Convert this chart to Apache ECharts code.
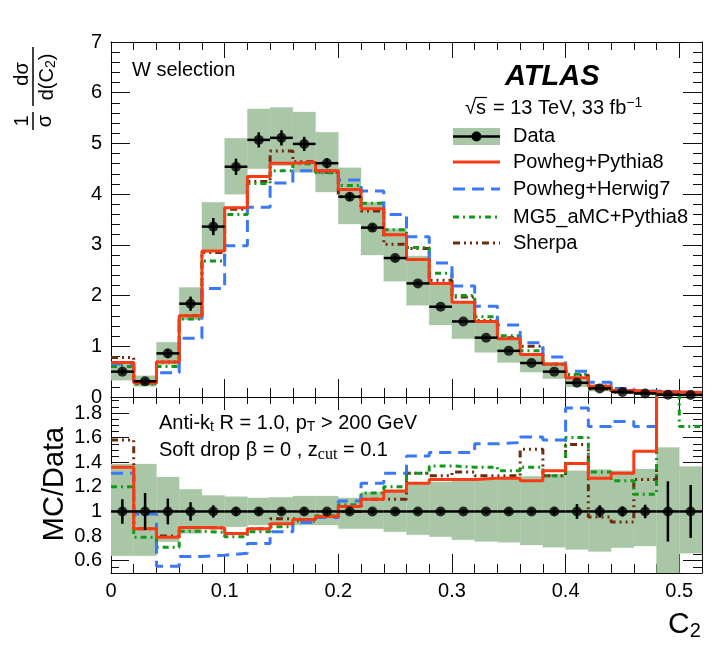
<!DOCTYPE html>
<html><head><meta charset="utf-8">
<script src="https://cdn.jsdelivr.net/npm/echarts@6/dist/echarts.min.js"></script>
<style>html,body{margin:0;padding:0;background:#fff}#c{width:724px;height:647px}</style>
</head><body><div id="c"></div>
<script>
// ---------- data ----------
const binEdges = [0,0.02,0.04,0.06,0.08,0.10,0.12,0.14,0.16,0.18,0.20,0.22,0.24,0.26,0.28,0.30,0.32,0.34,0.36,0.38,0.40,0.42,0.44,0.46,0.48,0.50,0.52];
const dataVal = [0.50,0.31,0.86,1.84,3.36,4.54,5.07,5.11,4.99,4.61,3.95,3.34,2.74,2.24,1.78,1.49,1.17,0.91,0.67,0.50,0.28,0.17,0.10,0.07,0.045,0.04];
const dataErr = [0.05,0.05,0.09,0.14,0.17,0.16,0.15,0.15,0.14,0.10,0.08,0.07,0.05,0.04,0.035,0.03,0.025,0.02,0.015,0.015,0.017,0.009,0.004,0.004,0.011,0.009];
const bandTopLo = [0.33,0.21,0.64,1.52,2.90,4.00,4.50,4.56,4.43,4.04,3.41,2.80,2.28,1.81,1.42,1.15,0.88,0.68,0.49,0.36,0.20,0.115,0.07,0.05,0.018,0.026];
const bandTopHi = [0.69,0.42,1.08,2.16,3.84,5.10,5.68,5.71,5.62,5.22,4.52,3.84,3.32,2.78,2.21,1.86,1.47,1.16,0.86,0.65,0.37,0.23,0.133,0.094,0.068,0.055];
const powhegPythia = [0.68,0.28,0.69,1.60,2.88,3.73,4.35,4.61,4.63,4.46,4.09,3.71,3.20,2.71,2.24,1.87,1.49,1.15,0.84,0.65,0.38,0.21,0.13,0.105,0.10,0.09];
const powhegHerwig = [0.65,0.30,0.48,1.16,2.14,2.98,3.74,4.22,4.46,4.46,4.28,4.06,3.60,3.16,2.64,2.19,1.79,1.42,1.07,0.79,0.51,0.29,0.17,0.12,0.10,0.09];
const mg5Pythia = [0.60,0.25,0.60,1.54,2.68,3.60,4.21,4.46,4.60,4.42,4.17,3.82,3.30,2.95,2.44,2.00,1.58,1.21,0.91,0.65,0.45,0.22,0.125,0.08,0.10,0.067];
const sherpa = [0.78,0.27,0.69,1.60,2.85,3.70,4.25,4.85,4.64,4.43,3.95,3.67,3.01,2.93,2.30,1.97,1.51,1.17,1.00,0.645,0.43,0.16,0.09,0.09,0.10,0.08];
// ratio panel
const ratioData = [1,1,1,1,1,1,1,1,1,1,1,1,1,1,1,1,1,1,1,1,1,1,1,1,1,1];
const ratioErr = [0.10,0.15,0.105,0.075,0.05,0.035,0.03,0.03,0.03,0.02,0.02,0.02,0.02,0.02,0.02,0.02,0.02,0.02,0.02,0.03,0.06,0.05,0.04,0.055,0.245,0.215];
const ratioBandLo = [0.64,0.64,0.754,0.82,0.86,0.875,0.89,0.89,0.89,0.89,0.86,0.86,0.835,0.81,0.795,0.77,0.755,0.75,0.728,0.71,0.69,0.674,0.706,0.72,0.40,0.66];
const ratioBandHi = [1.385,1.385,1.28,1.18,1.13,1.12,1.11,1.115,1.125,1.125,1.11,1.157,1.18,1.23,1.24,1.25,1.26,1.278,1.286,1.30,1.33,1.34,1.33,1.345,1.52,1.366];
const rPowhegPythia = [1.36,0.86,0.79,0.87,0.865,0.82,0.86,0.90,0.935,0.96,1.04,1.10,1.165,1.23,1.26,1.26,1.27,1.27,1.25,1.33,1.39,1.27,1.31,1.49,2.4,2.4];
const rPowhegHerwig = [1.31,0.98,0.555,0.635,0.645,0.66,0.74,0.835,0.91,0.95,1.085,1.23,1.31,1.45,1.48,1.48,1.55,1.56,1.605,1.58,1.84,1.69,1.73,1.69,2.4,2.4];
const rMg5Pythia = [1.20,0.79,0.71,0.84,0.83,0.795,0.835,0.875,0.92,0.965,1.055,1.15,1.20,1.31,1.37,1.36,1.36,1.33,1.36,1.29,1.60,1.32,1.25,1.14,2.4,1.69];
const rSherpa = [1.58,0.86,0.80,0.87,0.865,0.82,0.86,0.94,0.93,0.96,1.00,1.10,1.10,1.31,1.29,1.32,1.29,1.29,1.505,1.29,1.545,0.955,0.915,1.26,2.4,2.4];
const legendNames = ['Data','Powheg+Pythia8','Powheg+Herwig7','MG5_aMC+Pythia8','Sherpa'];

// ---------- style ----------
const FONT = 'Liberation Sans, Arial, Helvetica, sans-serif';
const BAND = '#a9c7a6';
const RED = '#fa3a14', BLUE = '#3a78f5', GREEN = '#12991a', BROWN = '#6b2c0c';
const DASH_BLUE = [12, 7], DASH_GREEN = [6, 4, 2, 4], DASH_BROWN = [7, 4, 2, 4, 2, 4, 2, 4];

const chart = echarts.init(document.getElementById('c'), null, {renderer: 'canvas'});

function stepData(vals) {
  const d = vals.map((v, i) => [binEdges[i], v]);
  d.push([binEdges[vals.length], vals[vals.length - 1]]);
  return d;
}
function bandSeries(lo, hi, ax) {
  return {
    type: 'custom', xAxisIndex: ax, yAxisIndex: ax, silent: true, z: 1, clip: true,
    data: lo.map((l, i) => [binEdges[i], binEdges[i + 1], l, hi[i]]),
    encode: {x: [0, 1], y: [2, 3]},
    renderItem: (params, api) => {
      const p1 = api.coord([api.value(0), api.value(3)]);
      const p2 = api.coord([api.value(1), api.value(2)]);
      const cs = params.coordSys;
      const r = echarts.graphic.clipRectByRect(
        {x: p1[0], y: p1[1], width: p2[0] - p1[0], height: p2[1] - p1[1]},
        {x: cs.x, y: cs.y, width: cs.width, height: cs.height});
      return r && {type: 'rect', shape: r, style: {fill: BAND, stroke: BAND, lineWidth: 0.3}};
    }
  };
}
function errSeries(vals, errs, ax) {
  return {
    type: 'custom', xAxisIndex: ax, yAxisIndex: ax, silent: true, z: 5,
    data: vals.map((v, i) => [binEdges[i], binEdges[i + 1], v, errs[i]]),
    encode: {x: [0, 1], y: 2},
    renderItem: (params, api) => {
      const y = api.value(2), e = api.value(3);
      const a = api.coord([api.value(0), y]);
      const b = api.coord([api.value(1), y]);
      const xm = (a[0] + b[0]) / 2;
      const t = api.coord([0, y + e]), u = api.coord([0, y - e]);
      return {type: 'group', children: [
        {type: 'line', shape: {x1: a[0], y1: a[1], x2: b[0], y2: b[1]}, style: {stroke: '#000', lineWidth: 2.5}},
        {type: 'line', shape: {x1: xm, y1: t[1], x2: xm, y2: u[1]}, style: {stroke: '#000', lineWidth: 2.5}}
      ]};
    }
  };
}
function dotSeries(vals, ax) {
  return {
    type: 'scatter', xAxisIndex: ax, yAxisIndex: ax, silent: true, z: 6,
    symbol: 'circle', symbolSize: 10, itemStyle: {color: '#000'},
    data: vals.map((v, i) => [(binEdges[i] + binEdges[i + 1]) / 2, v])
  };
}
function mcSeries(name, vals, color, dash, ax) {
  return {
    name, type: 'line', xAxisIndex: ax, yAxisIndex: ax, step: 'end', showSymbol: false, symbol: 'none',
    silent: true, z: 3, clip: true,
    lineStyle: {color, width: 3, type: dash},
    data: stepData(vals)
  };
}

const tickCol = '#111';
function xAx(grid, pos, showLabel, major, minor) {
  return {
    type: 'value', gridIndex: grid, position: pos, min: 0, max: 0.52, interval: 0.1,
    axisLine: {show: true, onZero: false, lineStyle: {color: '#000', width: 1}},
    axisTick: {show: true, inside: true, length: major, lineStyle: {color: tickCol, width: 1}},
    minorTick: {show: true, splitNumber: 5, length: minor, lineStyle: {color: tickCol, width: 1}},
    splitLine: {show: false},
    axisLabel: {show: showLabel, margin: 8, fontSize: 20, fontFamily: FONT, color: '#000',
      formatter: v => (Math.abs(v * 10 - Math.round(v * 10)) < 1e-6 ? String(+v.toFixed(1)) : '')}
  };
}
function yAx(grid, pos, showLabel, opts, major, minor, minorSplit) {
  return Object.assign({
    type: 'value', gridIndex: grid, position: pos,
    axisLine: {show: true, onZero: false, lineStyle: {color: '#000', width: 1}},
    axisTick: {show: true, inside: true, length: major, lineStyle: {color: tickCol, width: 1}},
    minorTick: {show: true, splitNumber: minorSplit, length: minor, lineStyle: {color: tickCol, width: 1}},
    splitLine: {show: false},
    axisLabel: {show: showLabel, margin: 9, fontSize: 20, fontFamily: FONT, color: '#000'}
  }, opts);
}
const ratioFmt = v => (Math.abs(v * 5 - Math.round(v * 5)) < 1e-6 ? String(+v.toFixed(1)) : '');

const sub = {fontSize: 14, fontFamily: FONT, fill: '#000', padding: [9, 0, 0, 0], verticalAlign: 'bottom'};
const txt = {fontSize: 20, fontFamily: FONT, fill: '#000'};

const legendY = [136.5, 162, 189, 217, 243];
const legendX1 = 453, legendX2 = 500, legendTX = 513;

function rotText(cx, cy, style) {
  return {type: 'text', x: cx, y: cy, rotation: Math.PI / 2,
    style: Object.assign({x: 0, y: 0, align: 'center', verticalAlign: 'middle'}, style)};
}

const graphics = [
  {type: 'text', style: {text: 'W selection', x: 132, y: 70, font: '20px ' + FONT, fill: '#000', verticalAlign: 'middle'}},
  {type: 'text', style: {text: 'ATLAS', x: 505, y: 77, font: 'italic bold 29px ' + FONT, fill: '#000', verticalAlign: 'middle'}},
  {type: 'text', style: {text: '\u221As', x: 465, y: 108, font: '20px ' + FONT, fill: '#000', verticalAlign: 'middle'}},
  {type: 'line', shape: {x1: 475, y1: 97.5, x2: 487, y2: 97.5}, style: {stroke: '#000', lineWidth: 1.2}},
  {type: 'text', style: {text: '{a|= 13 TeV, 33 fb}{s|\u22121}', x: 493, y: 108, verticalAlign: 'middle',
    rich: {a: {fontSize: 20, fontFamily: FONT, fill: '#000'}, s: {fontSize: 14, fontFamily: FONT, fill: '#000', verticalAlign: 'top', padding: [0, 0, 10, 0]}}}},
  // legend
  {type: 'rect', shape: {x: legendX1, y: 128, width: legendX2 - legendX1, height: 17}, style: {fill: BAND}},
  {type: 'line', shape: {x1: legendX1, y1: legendY[0], x2: legendX2, y2: legendY[0]}, style: {stroke: '#000', lineWidth: 2.5}},
  {type: 'circle', shape: {cx: (legendX1 + legendX2) / 2, cy: legendY[0], r: 5}, style: {fill: '#000'}},
  {type: 'line', shape: {x1: legendX1, y1: legendY[1], x2: legendX2, y2: legendY[1]}, style: {stroke: RED, lineWidth: 3}},
  {type: 'line', shape: {x1: legendX1, y1: legendY[2], x2: legendX2, y2: legendY[2]}, style: {stroke: BLUE, lineWidth: 3, lineDash: DASH_BLUE}},
  {type: 'line', shape: {x1: legendX1, y1: legendY[3], x2: legendX2, y2: legendY[3]}, style: {stroke: GREEN, lineWidth: 3, lineDash: DASH_GREEN}},
  {type: 'line', shape: {x1: legendX1, y1: legendY[4], x2: legendX2, y2: legendY[4]}, style: {stroke: BROWN, lineWidth: 3, lineDash: DASH_BROWN}},
  ...legendNames.map((n, i) => ({type: 'text', style: {text: n, x: legendTX, y: legendY[i], font: '20px ' + FONT, fill: '#000', verticalAlign: 'middle'}})),
  // ratio panel labels
  {type: 'text', style: {text: '{a|Anti-k}{s|t}{a| R = 1.0, p}{s|T}{a| > 200 GeV}', x: 159, y: 423, verticalAlign: 'middle',
    rich: {a: txt, s: sub}}},
  {type: 'text', style: {text: '{a|Soft drop \u03B2 = 0 , z}{c|cut}{a| = 0.1}', x: 159, y: 450, verticalAlign: 'middle',
    rich: {a: txt, c: {fontSize: 16, fontFamily: 'Liberation Serif, serif', fill: '#000', padding: [9, 0, 0, 0], verticalAlign: 'bottom'}}}},
  // axis titles
  rotText(55, 484, {text: 'MC/Data', font: '29px ' + FONT, fill: '#000'}),
  {type: 'text', style: {text: '{a|C}{s|2}', x: 668, y: 625, verticalAlign: 'middle',
    rich: {a: {fontSize: 30, fontFamily: FONT, fill: '#000'}, s: {fontSize: 20, fontFamily: FONT, fill: '#000', padding: [12, 0, 0, 0], verticalAlign: 'bottom'}}}},
  // y title: (1/sigma) (d sigma / d(C2)), rotated
  rotText(22, 121, {text: '1', font: '20px ' + FONT, fill: '#000'}),
  rotText(45, 121, {text: '\u03C3', font: '20px ' + FONT, fill: '#000'}),
  {type: 'line', shape: {x1: 33, y1: 112, x2: 33, y2: 130}, style: {stroke: '#000', lineWidth: 1.5}},
  rotText(22, 74, {text: 'd\u03C3', font: '20px ' + FONT, fill: '#000'}),
  rotText(47, 77, {text: '{a|d(C}{s|2}{a|)}', rich: {a: txt, s: sub}}),
  {type: 'line', shape: {x1: 33, y1: 47, x2: 33, y2: 106}, style: {stroke: '#000', lineWidth: 1.5}}
];

const option = {
  animation: false,
  backgroundColor: '#fff',
  grid: [
    {left: 111, top: 42, width: 591, height: 355, containLabel: false},
    {left: 111, top: 397, width: 591, height: 176, containLabel: false}
  ],
  xAxis: [
    xAx(0, 'bottom', false, 18, 9),
    xAx(0, 'top', false, 16, 8),
    xAx(1, 'bottom', true, 19, 9),
    xAx(1, 'top', false, 13, 7)
  ],
  yAxis: [
    yAx(0, 'left', true, {min: 0, max: 7, interval: 1}, 19, 9, 5),
    yAx(0, 'right', false, {min: 0, max: 7, interval: 1}, 19, 9, 5),
    yAx(1, 'left', true, {min: 0.5, max: 1.93, splitNumber: 7}, 18, 8, 4),
    yAx(1, 'right', false, {min: 0.5, max: 1.93, splitNumber: 7}, 19, 9, 4)
  ],
  graphic: graphics,
  series: [
    bandSeries(bandTopLo, bandTopHi, 0),
    mcSeries('Sherpa', sherpa, BROWN, DASH_BROWN, 0),
    mcSeries('MG5_aMC+Pythia8', mg5Pythia, GREEN, DASH_GREEN, 0),
    mcSeries('Powheg+Herwig7', powhegHerwig, BLUE, DASH_BLUE, 0),
    mcSeries('Powheg+Pythia8', powhegPythia, RED, 'solid', 0),
    errSeries(dataVal, dataErr, 0),
    dotSeries(dataVal, 0),
    bandSeries(ratioBandLo, ratioBandHi, 2),
    mcSeries('Sherpa r', rSherpa, BROWN, DASH_BROWN, 2),
    mcSeries('MG5 r', rMg5Pythia, GREEN, DASH_GREEN, 2),
    mcSeries('Herwig r', rPowhegHerwig, BLUE, DASH_BLUE, 2),
    mcSeries('Pythia r', rPowhegPythia, RED, 'solid', 2),
    errSeries(ratioData, ratioErr, 2),
    dotSeries(ratioData, 2)
  ]
};
option.yAxis[2].axisLabel.formatter = ratioFmt;
chart.setOption(option);
</script></body></html>
